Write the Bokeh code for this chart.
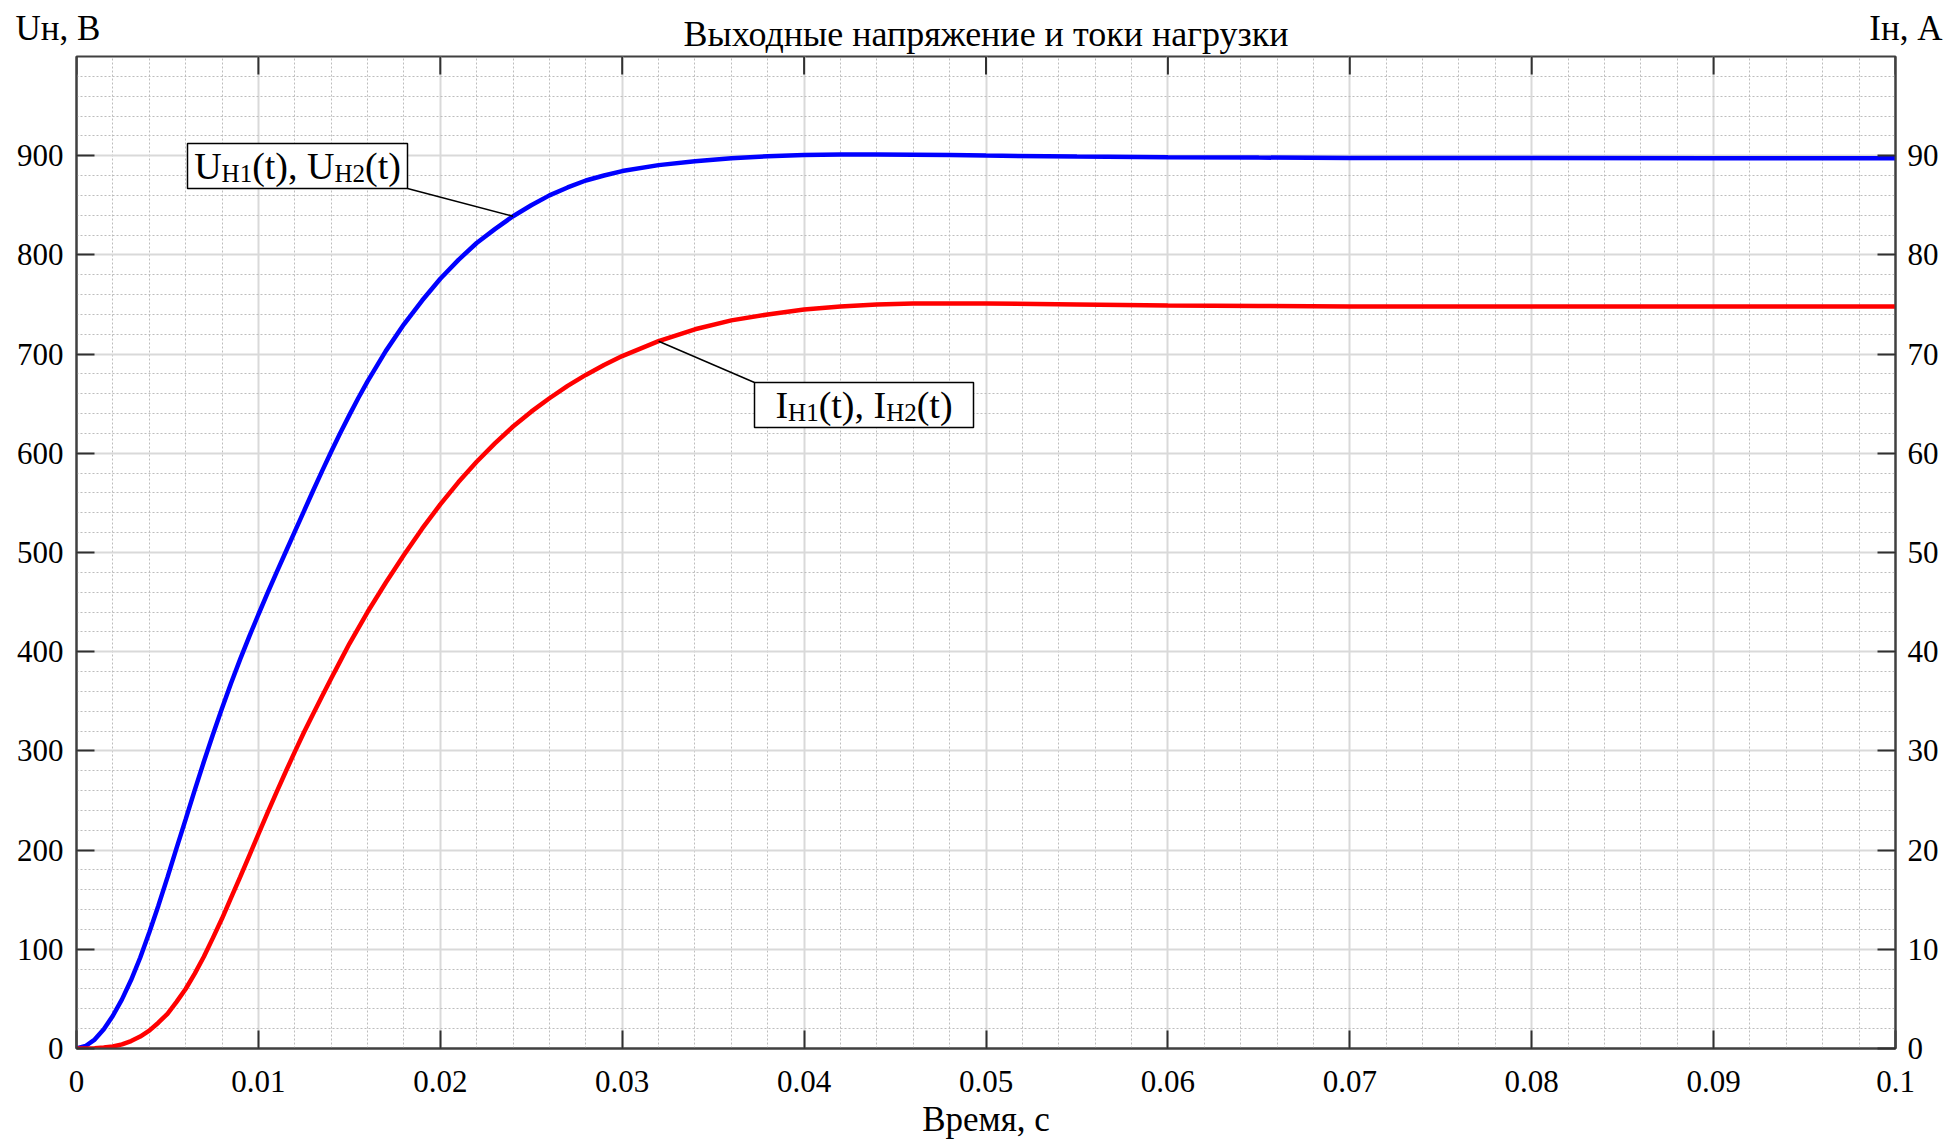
from bokeh.plotting import figure
from bokeh.models import Range1d, LinearAxis, FixedTicker
from bokeh.layouts import column
from bokeh.core.properties import value
from bokeh.embed import file_html
from bokeh.resources import INLINE

# ---------------- data ----------------
t_u = [0, 0.0005, 0.001, 0.0015, 0.002, 0.0025, 0.003, 0.0035, 0.004, 0.0045,
       0.005, 0.0055, 0.006, 0.0065, 0.007, 0.0075, 0.008, 0.0085, 0.009, 0.0095,
       0.010, 0.0105, 0.011, 0.0115, 0.012, 0.0125, 0.013, 0.0135, 0.014, 0.0145,
       0.015, 0.0155, 0.016, 0.017, 0.018, 0.019, 0.020, 0.021, 0.022, 0.023,
       0.024, 0.025, 0.026, 0.027, 0.028, 0.029, 0.030, 0.032, 0.034, 0.036,
       0.038, 0.040, 0.042, 0.044, 0.046, 0.048, 0.050, 0.055, 0.060, 0.065,
       0.070, 0.080, 0.090, 0.100]
u_load = [0, 2.5, 9, 19.5, 33, 49.5, 69, 91.5, 117, 144,
          172.5, 202, 231, 260.5, 289, 316.5, 343, 368.5, 392.5, 415.5,
          437.5, 459, 480, 500.5, 521, 541.5, 562, 582, 601.5, 620.5,
          638.5, 656, 672.5, 703, 730, 754, 776, 795, 812, 826,
          839, 850, 860, 868, 875, 880, 884.5, 890.5, 894.5, 897.5,
          899.5, 900.6, 901.1, 901.2, 901.0, 900.6, 900.1, 899.2, 898.5, 898.1,
          897.8, 897.6, 897.5, 897.5]

t_i = [0, 0.0005, 0.001, 0.0015, 0.002, 0.0025, 0.003, 0.0035, 0.004, 0.0045,
       0.005, 0.0055, 0.006, 0.0065, 0.007, 0.0075, 0.008, 0.0085, 0.009, 0.0095,
       0.010, 0.0105, 0.011, 0.0115, 0.012, 0.0125, 0.013, 0.0135, 0.014, 0.0145,
       0.015, 0.016, 0.017, 0.018, 0.019, 0.020, 0.021, 0.022, 0.023, 0.024,
       0.025, 0.026, 0.027, 0.028, 0.029, 0.030, 0.032, 0.034, 0.036, 0.038,
       0.040, 0.042, 0.044, 0.046, 0.048, 0.050, 0.055, 0.060, 0.065, 0.070,
       0.080, 0.090, 0.100]
i_load = [0, 0.005, 0.025, 0.09, 0.2, 0.42, 0.75, 1.2, 1.8, 2.6,
          3.5, 4.7, 6.0, 7.55, 9.25, 11.15, 13.1, 15.2, 17.3, 19.45,
          21.6, 23.75, 25.85, 27.9, 29.9, 31.85, 33.7, 35.5, 37.3, 39.05,
          40.8, 44.0, 46.95, 49.75, 52.4, 54.85, 57.1, 59.15, 61.0, 62.7,
          64.2, 65.55, 66.8, 67.9, 68.9, 69.8, 71.3, 72.5, 73.4, 74.0,
          74.5, 74.8, 75.0, 75.1, 75.1, 75.1, 75.0, 74.9, 74.85, 74.8,
          74.8, 74.8, 74.8]

x_ticks = [0, 0.01, 0.02, 0.03, 0.04, 0.05, 0.06, 0.07, 0.08, 0.09, 0.1]
x_tick_labels = ["0", "0.01", "0.02", "0.03", "0.04", "0.05", "0.06", "0.07", "0.08", "0.09", "0.1"]
u_ticks = [0, 100, 200, 300, 400, 500, 600, 700, 800, 900]
i_ticks = [0, 10, 20, 30, 40, 50, 60, 70, 80, 90]

title_text = "Выходные напряжение и токи нагрузки"
x_label = "Время, с"
u_label = "Uн, В"
i_label = "Iн, А"
u_note = [("U", "main"), ("Н1", "sub"), ("(t), ", "main"), ("U", "main"), ("Н2", "sub"), ("(t)", "main")]
i_note = [("I", "main"), ("Н1", "sub"), ("(t), ", "main"), ("I", "main"), ("Н2", "sub"), ("(t)", "main")]

# ---------------- layout / style ----------------
FONT = "Liberation Serif"
W, H = 1948, 1141
HEAD = 54                                    # height of the caption strip above the chart
FL, FR, FT, FB = 76, 1895, 56, 1048          # frame edges in page pixels
X0, X1, Y0, Y1, I1 = 0.0, 0.1, 0.0, 1000.0, 100.0
SHIFT = 0.32   # baseline correction for text glyphs, in em

def dx(px):
    return X0 + (px - FL) / (FR - FL) * (X1 - X0)

def dy(py):
    return Y0 + (FB - py) / (FB - FT) * (Y1 - Y0)

def di(py):
    return (FB - py) / (FB - FT) * I1

# ---- caption strip (title and the two axis captions) ----
head = figure(width=W, height=HEAD, output_backend="svg", toolbar_location=None,
              x_range=Range1d(0, W), y_range=Range1d(HEAD, 0),
              min_border_left=0, min_border_right=0, min_border_top=0, min_border_bottom=0,
              x_axis_location=None, y_axis_location=None)
head.frame_align = False
head.outline_line_color = None
head.grid.visible = False
head.background_fill_color = "white"
head.border_fill_color = "white"

def head_text(x, base, txt, size, align):
    head.text(x=[x], y=[base - SHIFT * size], text=[txt], text_font=value(FONT),
              text_font_size=f"{size}px", text_color="black",
              text_baseline="alphabetic", text_align=align)

head_text(15, 39, u_label, 35, "left")
head_text((FL + FR) / 2, 45, title_text, 36, "center")
head_text(1942, 39, i_label, 35, "right")

# ---- main chart ----
p = figure(width=W, height=H - HEAD, output_backend="svg", toolbar_location=None,
           x_range=Range1d(X0, X1), y_range=Range1d(Y0, Y1),
           min_border_left=FL, min_border_right=W - FR,
           min_border_top=FT - HEAD, min_border_bottom=H - FB)
p.frame_align = False
p.extra_y_ranges = {"I": Range1d(0, I1)}
p.background_fill_color = "white"
p.border_fill_color = "white"
p.outline_line_color = "#404040"
p.outline_line_width = 2

x_minor = [k * 0.002 for k in range(51)]
y_minor = [k * 20 for k in range(51)]
xt = FixedTicker(ticks=x_ticks, minor_ticks=x_minor)
yt = FixedTicker(ticks=u_ticks + [1000], minor_ticks=y_minor)
ylab_t = FixedTicker(ticks=u_ticks, minor_ticks=[])

def style_axis(ax, label_size="31px"):
    ax.axis_line_color = "#404040"
    ax.axis_line_width = 2
    ax.major_tick_line_color = "#303030"
    ax.major_tick_line_width = 2
    ax.major_tick_in = 18
    ax.major_tick_out = 0
    ax.minor_tick_in = 0
    ax.minor_tick_out = 0
    ax.major_label_text_font = FONT
    ax.major_label_text_font_size = label_size
    ax.major_label_text_color = "black"

xa = p.xaxis[0]
xa.ticker = xt
style_axis(xa)
xa.major_label_overrides = {v: s for v, s in zip(x_ticks, x_tick_labels)}
xa.major_label_standoff = 22
xa.axis_label = x_label
xa.axis_label_text_font = FONT
xa.axis_label_text_font_size = "35px"
xa.axis_label_text_font_style = "normal"
xa.axis_label_text_color = "black"
xa.axis_label_standoff = 5

ya = p.yaxis[0]
ya.ticker = ylab_t
style_axis(ya)
ya.major_label_standoff = 13

ra = LinearAxis(y_range_name="I", ticker=FixedTicker(ticks=i_ticks, minor_ticks=[]))
style_axis(ra)
ra.major_label_standoff = 12
p.add_layout(ra, "right")

p.xgrid.ticker = xt
p.ygrid.ticker = yt
for g in (p.xgrid, p.ygrid):
    g.grid_line_color = "#d9d9d9"
    g.grid_line_width = 2
    g.minor_grid_line_color = "#bdbdbd"
    g.minor_grid_line_width = 1
    g.minor_grid_line_dash = "2 2"

# tick marks along the top edge of the frame
p.segment(x0=x_ticks, y0=[Y1] * len(x_ticks), x1=x_ticks, y1=[dy(FT + 18)] * len(x_ticks),
          line_color="#303030", line_width=2)

# curves
p.line(t_u, u_load, line_color="#0000ff", line_width=4.5)
p.line(t_i, i_load, line_color="#ff0000", line_width=4.5, y_range_name="I")

# annotation boxes with leader lines
ku = t_u.index(0.024)
ki = t_i.index(0.032)
p.segment(x0=[dx(407)], y0=[dy(188)], x1=[t_u[ku]], y1=[u_load[ku]],
          line_color="black", line_width=1.5)
p.segment(x0=[dx(754)], y0=[di(382)], x1=[t_i[ki]], y1=[i_load[ki]],
          line_color="black", line_width=1.5, y_range_name="I")

p.quad(left=[dx(187)], right=[dx(407)], top=[dy(143)], bottom=[dy(188)],
       fill_color="white", line_color="black", line_width=1.5)
p.quad(left=[dx(754)], right=[dx(973)], top=[di(382)], bottom=[di(427)],
       fill_color="white", line_color="black", line_width=1.5, y_range_name="I")

ADV = {"U": 0.722, "I": 0.333, "Н": 0.722, "1": 0.5, "2": 0.5, "(": 0.333,
       ")": 0.333, "t": 0.278, ",": 0.25, " ": 0.25}
SIZES = {"main": 38, "sub": 25}

def note(parts, left_px, right_px, base_py, conv, rng):
    widths = [sum(ADV.get(c, 0.5) for c in s) * SIZES[k] for s, k in parts]
    x = left_px + ((right_px - left_px) - sum(widths)) / 2.0
    for (s, k), w in zip(parts, widths):
        yy = base_py + (3 if k == "sub" else 0) - SHIFT * SIZES[k]
        kw = {} if rng is None else {"y_range_name": rng}
        p.text(x=[dx(x)], y=[conv(yy)], text=[s], text_font=value(FONT),
               text_font_size=f"{SIZES[k]}px", text_color="black",
               text_baseline="alphabetic", text_align="left", **kw)
        x += w

note(u_note, 187, 407, 178, dy, None)
note(i_note, 754, 973, 417, di, "I")

page = column(head, p, spacing=0)
open("out.html", "w").write(file_html(page, INLINE))
